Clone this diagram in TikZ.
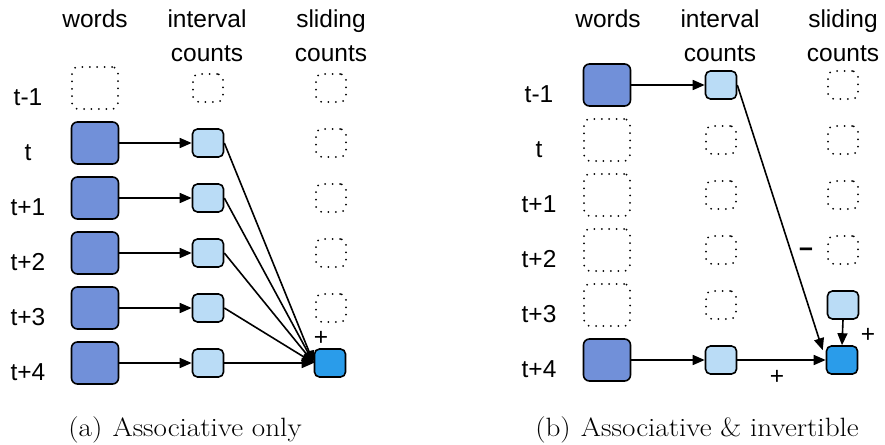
\documentclass[tikz,border=0pt]{standalone}
\usepackage{fontspec}
\newfontfamily\lab{Liberation Sans}
\usetikzlibrary{arrows.meta,calc}
\definecolor{wordc}{HTML}{7190D9}
\definecolor{intc}{HTML}{BADCF6}
\definecolor{finc}{HTML}{2A9CEA}
\tikzset{
 dotbox/.style={draw, line width=2pt, dash pattern=on 0pt off 7.4pt, line cap=round, rounded corners=6pt, inner sep=0pt},
 wbox/.style={draw, line width=1.6pt, rounded corners=6pt, fill=wordc, minimum width=47pt, minimum height=42pt, inner sep=0pt},
 wdot/.style={dotbox, minimum width=46pt, minimum height=42pt},
 ibox/.style={draw, line width=1.6pt, rounded corners=5pt, fill=intc, minimum width=31pt, minimum height=28pt, inner sep=0pt},
 idot/.style={dotbox, minimum width=30pt, minimum height=28pt},
 finbox/.style={ibox, fill=finc},
 lbl/.style={font=\lab\fontsize{24.5}{28}\selectfont, inner sep=0pt, anchor=base},
 capt/.style={font=\fontsize{26.5}{28}\selectfont, inner sep=0pt, anchor=base},
 arr/.style={-{Triangle[length=12pt,width=10pt]}, line width=1.6pt},
}
\begin{document}
\begin{tikzpicture}[x=1pt,y=-1pt]
\useasboundingbox (0,0) rectangle (885,444);
% ---------------- left panel ----------------
\node[lbl] (hw1) at (95,28) {words};
\node[lbl] (hi1) at (207,28) {interval};
\node[lbl] (hc1) at (207,62) {counts};
\node[lbl] (hs1) at (331,28) {sliding};
\node[lbl] (hd1) at (331,62) {counts};
% row labels
\node[lbl] (la0) at (28,105) {t-1};
\node[lbl] (la1) at (28,160) {t};
\node[lbl] (la2) at (28,215) {t+1};
\node[lbl] (la3) at (28,270) {t+2};
\node[lbl] (la4) at (28,325) {t+3};
\node[lbl] (la5) at (28,380) {t+4};
% row t-1
\node[wdot] (aw0) at (95,88) {};
\node[idot] (ai0) at (208,88) {};
\node[idot] (as0) at (331,88) {};
% rows t..t+4
\node[wbox] (aw1) at (95,143) {};
\node[wbox] (aw2) at (95,198) {};
\node[wbox] (aw3) at (95,253) {};
\node[wbox] (aw4) at (95,308) {};
\node[wbox] (aw5) at (95,363) {};
\node[ibox] (ai1) at (208,143) {};
\node[ibox] (ai2) at (208,198) {};
\node[ibox] (ai3) at (208,253) {};
\node[ibox] (ai4) at (208,308) {};
\node[ibox] (ai5) at (208,363) {};
\node[idot] (as1) at (331,143) {};
\node[idot] (as2) at (331,198) {};
\node[idot] (as3) at (331,253) {};
\node[idot] (as4) at (331,308) {};
\node[finbox] (af) at (330,363) {};
\foreach \i in {1,...,5} {
  \draw[arr] (aw\i.east) -- (ai\i.west);
  \draw[arr] (ai\i.east) -- (af.west);
}
\node[lbl] (aplus) at (321,345) {+};
\node[capt] (capa) at (185,436) {\scalebox{1.1}[1]{(a)\hspace{0.35em}Associative only}};
% ---------------- right panel ----------------
\node[lbl] (hw2) at (608,28) {words};
\node[lbl] (hi2) at (720,28) {interval};
\node[lbl] (hc2) at (720,62) {counts};
\node[lbl] (hs2) at (843,28) {sliding};
\node[lbl] (hd2) at (843,62) {counts};
\node[lbl] (lb0) at (539,102) {t-1};
\node[lbl] (lb1) at (539,157) {t};
\node[lbl] (lb2) at (539,212) {t+1};
\node[lbl] (lb3) at (539,267) {t+2};
\node[lbl] (lb4) at (539,322) {t+3};
\node[lbl] (lb5) at (539,377) {t+4};
% row t-1
\node[wbox] (bw0) at (607,85) {};
\node[ibox] (bi0) at (721,85) {};
\node[idot] (bs0) at (843,85) {};
% rows t..t+2
\node[wdot] (bw1) at (607,140) {};
\node[idot] (bi1) at (721,140) {};
\node[idot] (bs1) at (843,140) {};
\node[wdot] (bw2) at (607,195) {};
\node[idot] (bi2) at (721,195) {};
\node[idot] (bs2) at (843,195) {};
\node[wdot] (bw3) at (607,250) {};
\node[idot] (bi3) at (721,250) {};
\node[idot] (bs3) at (843,250) {};
% row t+3
\node[wdot] (bw4) at (607,305) {};
\node[idot] (bi4) at (721,305) {};
\node[ibox] (bs4) at (843,305) {};
% row t+4
\node[wbox] (bw5) at (607,360) {};
\node[ibox] (bi5) at (721,360) {};
\node[finbox] (bf) at (842,360) {};
\draw[arr] (bw0.east) -- (bi0.west);
\draw[arr] (bi0.east) -- ($(bf.north west)+(-3,5)$);
\draw[arr] (bw5.east) -- (bi5.west);
\draw[arr] (bi5.east) -- (bf.west);
\draw[arr] (bs4.south) -- (bf.north);
\node[lbl, font=\lab\bfseries\fontsize{24.5}{28}\selectfont] (bminus) at (806,257) {−};
\node[lbl] (bplus1) at (868,342) {+};
\node[lbl] (bplus2) at (777,384) {+};
\node[capt] (capb) at (697,436) {\scalebox{1.1}[1]{(b)\hspace{0.35em}Associative \& invertible}};
\end{tikzpicture}
\end{document}
